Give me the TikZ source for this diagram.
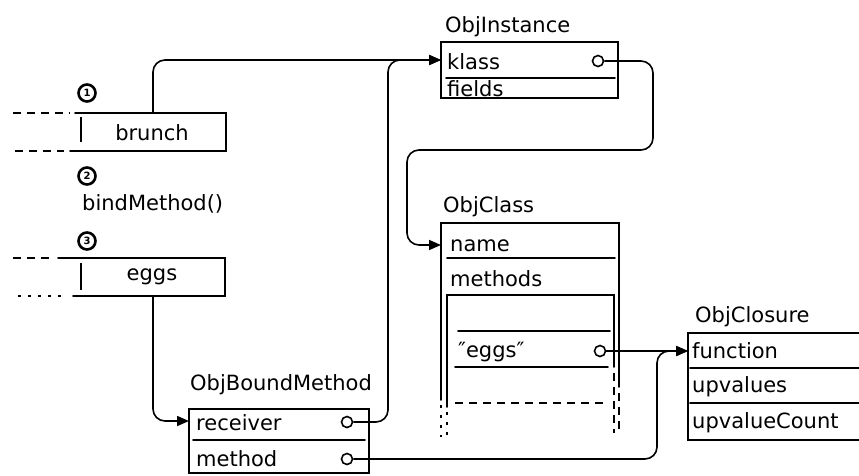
\documentclass[tikz,border=0pt]{standalone}
\usepackage{fontspec}
\setmainfont{DejaVu Sans}
\usetikzlibrary{arrows.meta}
\begin{document}
\begin{tikzpicture}[x=1pt,y=-1pt,
  every node/.style={font=\fontsize{21}{24}\selectfont},
  edge/.style={line width=1.7pt, line cap=round},
  dash8/.style={line width=1.5pt, dash pattern=on 8pt off 6pt},
  dotty/.style={line width=1.5pt, dash pattern=on 3pt off 7pt},
  conn/.style={line width=1.6pt, rounded corners=12pt},
  tip/.style={-{Triangle[length=12pt,width=10pt]}},
  dot/.style={circle, draw, line width=1.6pt, fill=white, inner sep=0pt, minimum size=11pt},
  lbl/.style={anchor=base west, inner sep=0pt},
  cen/.style={anchor=base, inner sep=0pt},
  num/.style={circle, draw, line width=2.6pt, inner sep=0pt, minimum size=17pt, font=\fontsize{10}{10}\selectfont\bfseries}]
\useasboundingbox (0,0) rectangle (859,475);

% ---- left stack ----
\node[num] (n1) at (87,93) {1};
\node[num] (n2) at (87,176) {2};
\node[num] (n3) at (87,241) {3};

\draw[edge] (75,113) -- (226,113) -- (226,151) -- (70,151);
\draw[dash8] (13,113) -- (70,113);
\draw[dash8] (15,151) -- (64,151);
\draw[line width=1.2pt] (81,117) -- (81,142);
\node[cen] (brunch) at (152,140) {brunch};
\coordinate (brunchtop) at (153,113);

\node[lbl] (bind) at (82,210) {bindMethod()};

\draw[edge] (58,258) -- (225,258) -- (225,296) -- (73,296);
\draw[dash8] (13,258) -- (52,258);
\draw[dotty] (18,296) -- (68,296);
\draw[line width=1.2pt] (81,263) -- (81,290);
\node[cen] (eggs) at (152,280) {eggs};
\coordinate (eggsbot) at (153,296);

% ---- ObjInstance ----
\node[lbl] (tInst) at (445,32) {ObjInstance};
\draw[edge] (441,42) rectangle (618,98);
\draw[edge] (446,78) -- (615,78);
\node[lbl] (klass) at (447,69) {klass};
\node[lbl] (fields) at (447,96) {fields};
\node[dot] (klassdot) at (598,61) {};
\coordinate (klassin) at (441,60);

% ---- ObjClass ----
\node[lbl] (tClass) at (443,212) {ObjClass};
\draw[edge] (441,400) -- (441,223) -- (619,223) -- (619,387);
\draw[dotty] (441,405) -- (441,437);
\draw[dash8] (619,393) -- (619,433);
\draw[edge] (447,258) -- (615,258);
\node[lbl] (name) at (450,251) {name};
\node[lbl] (methods) at (450,286) {methods};
\draw[edge] (447,407) -- (447,295) -- (614,295) -- (614,367);
\draw[dotty] (447,412) -- (447,437);
\draw[dash8] (614,373) -- (614,433);
\draw[edge] (458,331) -- (610,331);
\draw[edge] (455,367) -- (608,367);
\draw[dash8] (455,403) -- (608,403);
\node[lbl] (eggsstr) at (458,357) {″eggs″};
\node[dot] (eggsdot) at (600,351) {};
\coordinate (namein) at (441,245);

% ---- ObjClosure ----
\node[lbl] (tClos) at (695,322) {ObjClosure};
\draw[edge] (859,333) -- (688,333) -- (688,440) -- (859,440);
\draw[edge] (690,368) -- (859,368);
\draw[edge] (690,403) -- (859,403);
\node[lbl] (function) at (692,358) {function};
\node[lbl] (upvalues) at (692,392) {upvalues};
\node[lbl] (upcount) at (692,428) {upvalueCount};
\coordinate (funcin) at (688,351);

% ---- ObjBoundMethod ----
\node[lbl] (tBound) at (190,390) {ObjBoundMethod};
\draw[edge] (189,409) rectangle (369,473);
\draw[edge] (193,440) -- (365,440);
\node[lbl] (receiver) at (196,430) {receiver};
\node[lbl] (method) at (196,466) {method};
\node[dot] (recvdot) at (347,422) {};
\node[dot] (methdot) at (347,459) {};
\coordinate (recvin) at (189,421);

% ---- connectors ----
\draw[conn,tip] (brunchtop) |- (klassin);
\draw[conn,tip] (recvdot.east) -- (388,422) -- (388,60) -- (klassin);
\draw[conn,tip] (klassdot.east) -- (653,61) -- (653,150) -- (407,150) -- (407,245) -- (namein);
\draw[conn,tip] (eggsbot) |- (recvin);
\draw[conn,tip] (eggsdot.east) -- (funcin);
\draw[conn,tip] (methdot.east) -- (657,459) -- (657,351) -- (funcin);
\end{tikzpicture}
\end{document}
